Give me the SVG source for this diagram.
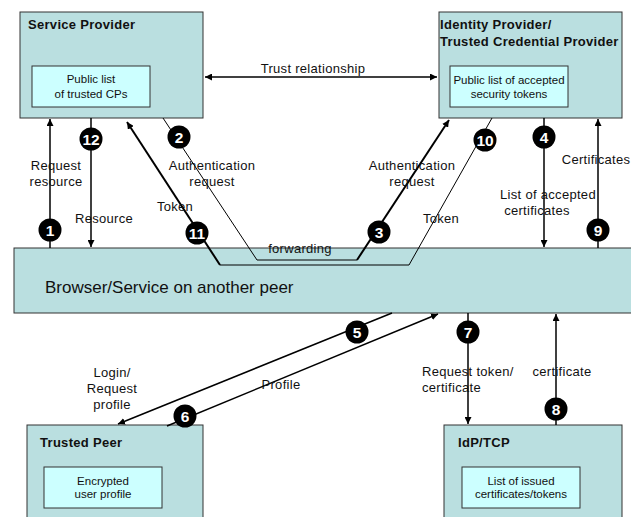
<svg xmlns="http://www.w3.org/2000/svg" width="631" height="517" viewBox="0 0 631 517">
<style>
.box{fill:#badfe0;stroke:#333;stroke-width:1}
.inner{fill:#ccffff;stroke:#333;stroke-width:1}
.title{font-family:"Liberation Sans",Arial,sans-serif;font-weight:bold;font-size:13px;letter-spacing:0.3px;fill:#111}
.itext{font-family:"Liberation Sans",Arial,sans-serif;font-size:11.5px;fill:#111;text-anchor:middle}
.lbl{font-family:"Liberation Sans",Arial,sans-serif;font-size:13px;letter-spacing:0.3px;fill:#111}
.mid{text-anchor:middle}
.ln{fill:none;stroke:#000;stroke-width:1.5}
.thin{fill:none;stroke:#000;stroke-width:1}
.thick{fill:none;stroke:#000;stroke-width:2}
.badge circle{fill:#000}
.badge text{font-family:"Liberation Sans",Arial,sans-serif;font-weight:bold;font-size:15.5px;fill:#fff;text-anchor:middle}
</style>
<defs>
<marker id="ah" viewBox="0 0 10 10" refX="10" refY="5" markerWidth="7" markerHeight="7" markerUnits="userSpaceOnUse" orient="auto-start-reverse">
<path d="M0,0 L10,5 L0,10 z" fill="#000"/>
</marker>
</defs>
<rect width="631" height="517" fill="#fff"/>

<g id="service-provider">
<rect class="box" x="20" y="12" width="183" height="106"/>
<text class="title" x="28" y="29">Service Provider</text>
<rect class="inner" x="32" y="66" width="118" height="41"/>
<text class="itext" x="91" y="83">Public list</text>
<text class="itext" x="91" y="98">of trusted CPs</text>
</g>

<g id="identity-provider">
<rect class="box" x="439" y="12" width="183" height="106"/>
<text class="title" x="440" y="29">Identity Provider/</text>
<text class="title" x="440" y="46">Trusted Credential Provider</text>
<rect class="inner" x="450" y="66" width="118" height="41"/>
<text class="itext" x="509" y="84">Public list of accepted</text>
<text class="itext" x="509" y="98">security tokens</text>
</g>

<g id="browser">
<rect class="box" x="14" y="248" width="630" height="65"/>
<text class="lbl" x="45" y="293" style="font-size:17px;letter-spacing:0">Browser/Service on another peer</text>
</g>

<g id="trusted-peer">
<rect class="box" x="27" y="425" width="176" height="110"/>
<text class="title" x="40" y="447">Trusted Peer</text>
<rect class="inner" x="44" y="467" width="118" height="41"/>
<text class="itext" x="103" y="485">Encrypted</text>
<text class="itext" x="103" y="498">user profile</text>
</g>

<g id="idp-tcp">
<rect class="box" x="444" y="425" width="178" height="110"/>
<text class="title" x="458" y="447">IdP/TCP</text>
<rect class="inner" x="462" y="467" width="118" height="41"/>
<text class="itext" x="521" y="485">List of issued</text>
<text class="itext" x="521" y="498">certificates/tokens</text>
</g>

<g id="connectors">
<line class="ln" x1="205" y1="77" x2="437" y2="77" marker-start="url(#ah)" marker-end="url(#ah)"/>
<line class="ln" x1="50" y1="248" x2="50" y2="119" marker-end="url(#ah)"/>
<line class="ln" x1="91" y1="118" x2="91" y2="247" marker-end="url(#ah)"/>
<polyline class="thin" points="163,118 257,260 357,260"/>
<line class="thick" x1="357" y1="260" x2="449" y2="120" marker-end="url(#ah)"/>
<polyline class="thin" points="492,118 409,265 220,265"/>
<line class="thick" x1="220" y1="265" x2="127" y2="122" marker-end="url(#ah)"/>
<line class="ln" x1="544" y1="118" x2="544" y2="247" marker-end="url(#ah)"/>
<line class="ln" x1="598" y1="248" x2="598" y2="119" marker-end="url(#ah)"/>
<line class="ln" x1="392" y1="313" x2="118" y2="424" marker-end="url(#ah)"/>
<line class="ln" x1="167" y1="426" x2="438" y2="314" marker-end="url(#ah)"/>
<line class="ln" x1="468" y1="313" x2="468" y2="424" marker-end="url(#ah)"/>
<line class="ln" x1="556" y1="425" x2="556" y2="314" marker-end="url(#ah)"/>
</g>

<g id="labels">
<text class="lbl mid" x="313" y="73">Trust relationship</text>
<text class="lbl mid" x="56" y="170">Request</text>
<text class="lbl mid" x="56" y="186">resource</text>
<text class="lbl mid" x="104" y="223">Resource</text>
<text class="lbl mid" x="212" y="170">Authentication</text>
<text class="lbl mid" x="212" y="186">request</text>
<text class="lbl mid" x="175" y="211">Token</text>
<text class="lbl mid" x="300" y="253">forwarding</text>
<text class="lbl mid" x="412" y="170">Authentication</text>
<text class="lbl mid" x="412" y="186">request</text>
<text class="lbl mid" x="441" y="223">Token</text>
<text class="lbl mid" x="548" y="199">List of accepted</text>
<text class="lbl mid" x="537" y="215">certificates</text>
<text class="lbl mid" x="596" y="164">Certificates</text>
<text class="lbl mid" x="112" y="377">Login/</text>
<text class="lbl mid" x="112" y="393">Request</text>
<text class="lbl mid" x="112" y="409">profile</text>
<text class="lbl mid" x="281" y="389">Profile</text>
<text class="lbl" x="422" y="376">Request token/</text>
<text class="lbl" x="422" y="392">certificate</text>
<text class="lbl mid" x="562" y="376">certificate</text>
</g>

<g id="badges" class="badge">
<circle cx="50" cy="230" r="11.5"/><text x="50" y="235.5">1</text>
<circle cx="179" cy="137" r="11.5"/><text x="179" y="142.5">2</text>
<circle cx="379" cy="232" r="11.5"/><text x="379" y="237.5">3</text>
<circle cx="544" cy="137" r="11.5"/><text x="544" y="142.5">4</text>
<circle cx="357" cy="332" r="11.5"/><text x="357" y="337.5">5</text>
<circle cx="185" cy="416" r="11.5"/><text x="185" y="421.5">6</text>
<circle cx="468" cy="332" r="11.5"/><text x="468" y="337.5">7</text>
<circle cx="556" cy="409" r="11.5"/><text x="556" y="414.5">8</text>
<circle cx="598" cy="230" r="11.5"/><text x="598" y="235.5">9</text>
<circle cx="485" cy="140" r="11.5"/><text x="485" y="145.5">10</text>
<circle cx="197" cy="233" r="11.5"/><text x="197" y="238.5">11</text>
<circle cx="91" cy="139" r="11.5"/><text x="91" y="144.5">12</text>
</g>
</svg>
